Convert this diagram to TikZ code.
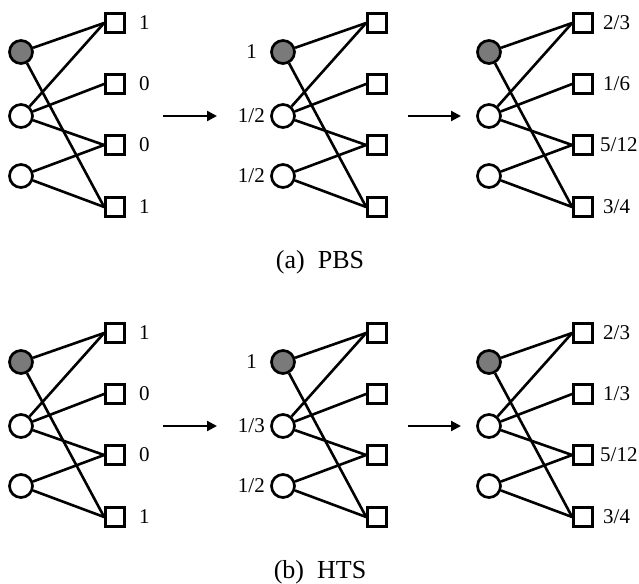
\documentclass[tikz,border=0pt]{standalone}
\usepackage{fontspec}
\setmainfont{Liberation Serif}
\usetikzlibrary{arrows.meta}
\begin{document}
\begin{tikzpicture}[x=1pt,y=-1pt,
  vnode/.style={circle,draw,line width=2.7pt,minimum size=23pt,inner sep=0pt,fill=white},
  gnode/.style={vnode,fill=black!52},
  snode/.style={rectangle,draw,line width=2.7pt,minimum size=19pt,inner sep=0pt,fill=white},
  edge/.style={line width=2.6pt},
  lab/.style={font=\fontsize{21}{23}\selectfont,inner sep=0pt},
  captext/.style={font=\fontsize{26}{28}\selectfont,inner sep=0pt},
  flow/.style={line width=2.2pt,-{Triangle[length=10pt,width=10pt]}}]
\useasboundingbox (0,0) rectangle (639,583);
\foreach \oy/\pp in {0/a,310/b}{
  \foreach \cx/\sx/\k in {21/115/1,283/377/2,489/583/3}{
    \node[gnode] (c\pp\k1) at (\cx,52+\oy) {};
    \node[vnode] (c\pp\k2) at (\cx,116+\oy) {};
    \node[vnode] (c\pp\k3) at (\cx,176+\oy) {};
    \node[snode] (s\pp\k1) at (\sx,23+\oy) {};
    \node[snode] (s\pp\k2) at (\sx,84+\oy) {};
    \node[snode] (s\pp\k3) at (\sx,145+\oy) {};
    \node[snode] (s\pp\k4) at (\sx,207+\oy) {};
    \draw[edge] (c\pp\k1) -- (s\pp\k1.west);
    \draw[edge] (c\pp\k1) -- (s\pp\k4.west);
    \draw[edge] (c\pp\k2) -- (s\pp\k1.west);
    \draw[edge] (c\pp\k2) -- (s\pp\k2.west);
    \draw[edge] (c\pp\k2) -- (s\pp\k3.west);
    \draw[edge] (c\pp\k3) -- (s\pp\k3.west);
    \draw[edge] (c\pp\k3) -- (s\pp\k4.west);
  }
  \node[coordinate] (a\pp1s) at (163,116+\oy) {};
  \node[coordinate] (a\pp1e) at (217,116+\oy) {};
  \node[coordinate] (a\pp2s) at (408,116+\oy) {};
  \node[coordinate] (a\pp2e) at (461,116+\oy) {};
  \draw[flow] (a\pp1s) -- (a\pp1e);
  \draw[flow] (a\pp2s) -- (a\pp2e);
  \node[lab,anchor=west] (l\pp11) at (139,23+\oy) {1};
  \node[lab,anchor=west] (l\pp12) at (139,84+\oy) {0};
  \node[lab,anchor=west] (l\pp13) at (139,145+\oy) {0};
  \node[lab,anchor=west] (l\pp14) at (139,207+\oy) {1};
  \node[lab,anchor=east] (l\pp21) at (257,52+\oy) {1};
  \node[lab,anchor=east] (l\pp23) at (265,176+\oy) {1/2};
  \node[lab,anchor=west] (l\pp31) at (603,23+\oy) {2/3};
  \node[lab,anchor=west] (l\pp33) at (600,145+\oy) {5/12};
  \node[lab,anchor=west] (l\pp34) at (603,207+\oy) {3/4};
}
\node[lab,anchor=east] (la22) at (265,116) {1/2};
\node[lab,anchor=east] (lb22) at (265,426) {1/3};
\node[lab,anchor=west] (la32) at (603,84) {1/6};
\node[lab,anchor=west] (lb32) at (603,394) {1/3};
\node[captext] (capa) at (320,262) {(a)\ \ PBS};
\node[captext] (capb) at (320,572) {(b)\ \ HTS};
\end{tikzpicture}
\end{document}
